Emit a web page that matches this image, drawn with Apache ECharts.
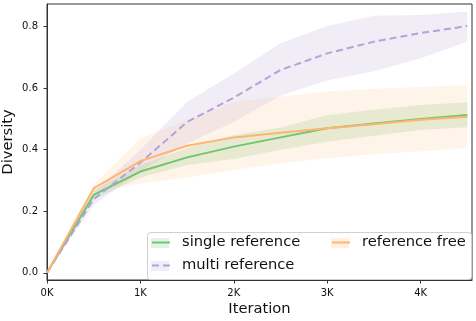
<!DOCTYPE html>
<html>
<head>
<meta charset="utf-8">
<script src="https://cdn.jsdelivr.net/npm/echarts@6/dist/echarts.min.js"></script>
<style>
  html, body { margin: 0; padding: 0; background: #fff; }
  #chart { width: 476px; height: 321px; }
</style>
</head>
<body>
<div id="chart"></div>
<script>
var iterations = [0, 500, 1000, 1500, 2000, 2500, 3000, 3500, 4000, 4500];

var single   = [0, 0.253, 0.329, 0.375, 0.410, 0.440, 0.470, 0.485, 0.500, 0.513];
var singleLo = [0, 0.238, 0.310, 0.350, 0.370, 0.400, 0.426, 0.445, 0.464, 0.473];
var singleHi = [0, 0.268, 0.350, 0.405, 0.448, 0.472, 0.513, 0.530, 0.545, 0.554];

var multi    = [0, 0.239, 0.358, 0.490, 0.569, 0.659, 0.713, 0.751, 0.779, 0.802];
var multiLo  = [0, 0.220, 0.330, 0.420, 0.490, 0.575, 0.625, 0.655, 0.697, 0.751];
var multiHi  = [0, 0.260, 0.400, 0.556, 0.648, 0.746, 0.802, 0.835, 0.838, 0.849];

var free     = [0, 0.274, 0.363, 0.413, 0.440, 0.455, 0.470, 0.483, 0.497, 0.507];
var freeLo   = [0, 0.262, 0.290, 0.310, 0.334, 0.356, 0.372, 0.385, 0.395, 0.405];
var freeHi   = [0, 0.286, 0.437, 0.495, 0.556, 0.572, 0.589, 0.598, 0.604, 0.610];

var yTicks = [0, 0.2, 0.4, 0.6, 0.8];
var xTicks = [0, 1000, 2000, 3000, 4000];

var GREEN = '#72c46e', PURPLE = '#b3a3d7', ORANGE = '#ffb470';
var FONT = 'DejaVu Sans';

function pairs(ys) {
    return iterations.map(function (x, i) { return [x, ys[i]]; });
}

// shaded band between lo and hi, one polygon through the axes
function band(name, lo, hi, color, opacity) {
    return {
        type: 'custom',
        name: name + ' band',
        silent: true,
        data: iterations.map(function (x, i) { return [x, lo[i], hi[i]]; }),
        encode: { x: 0, y: [1, 2] },
        renderItem: function (params, api) {
            if (params.dataIndex !== 0) return null;
            var pts = [];
            for (var i = 0; i < iterations.length; i++) pts.push(api.coord([iterations[i], hi[i]]));
            for (var j = iterations.length - 1; j >= 0; j--) pts.push(api.coord([iterations[j], lo[j]]));
            return {
                type: 'polygon',
                shape: { points: pts },
                style: { fill: color, opacity: opacity }
            };
        }
    };
}

function line(name, ys, color, dashed) {
    return {
        type: 'line',
        name: name,
        data: pairs(ys),
        symbol: 'none',
        lineStyle: { color: color, width: 2, type: dashed ? [7, 4] : 'solid' },
        itemStyle: { color: color }
    };
}

var legendText = { fontFamily: FONT, fontSize: 14.7, color: '#111', padding: [0, 0, 0, 7] };

var myChart = echarts.init(document.getElementById('chart'));
var option = {
    animation: false,
    grid: {
        left: 47, right: 4, top: 4, bottom: 41,
        outerBoundsMode: 'none',
        containLabel: false,
        show: true, borderColor: '#333', borderWidth: 1
    },
    xAxis: {
        type: 'value',
        min: 0, max: 4550,
        name: 'Iteration',
        nameLocation: 'middle',
        nameGap: 22,
        nameMoveOverlap: false,
        nameTextStyle: { fontFamily: FONT, fontSize: 14.7, color: '#111' },
        axisLine: { show: true, onZero: false, lineStyle: { color: '#333', width: 1 } },
        axisTick: { show: true, length: 3.5, customValues: xTicks, lineStyle: { color: '#333' } },
        axisLabel: {
            customValues: xTicks,
            margin: 8,
            fontFamily: FONT, fontSize: 10, color: '#111',
            formatter: function (v) { return (v / 1000) + 'K'; }
        },
        splitLine: { show: false }
    },
    yAxis: {
        type: 'value',
        min: -0.0235, max: 0.8735,
        name: 'Diversity',
        nameLocation: 'middle',
        nameGap: 31,
        nameMoveOverlap: false,
        nameTextStyle: { fontFamily: FONT, fontSize: 14.7, color: '#111' },
        axisLine: { show: true, onZero: false, lineStyle: { color: '#333', width: 1 } },
        axisTick: { show: true, length: 3.5, customValues: yTicks, lineStyle: { color: '#333' } },
        axisLabel: {
            customValues: yTicks,
            margin: 9,
            fontFamily: FONT, fontSize: 10, color: '#111',
            formatter: function (v) { return v.toFixed(1); }
        },
        splitLine: { show: false }
    },
    legend: [{
        data: ['single reference', 'multi reference'],
        orient: 'vertical',
        left: 151, top: 235,
        padding: 0,
        itemGap: 8,
        itemWidth: 18, itemHeight: 10,
        itemStyle: { opacity: 0 },
        z: 10,
        textStyle: legendText,
        selectedMode: false
    }, {
        data: ['reference free'],
        orient: 'vertical',
        left: 331, top: 235,
        padding: 0,
        itemWidth: 18, itemHeight: 10,
        itemStyle: { opacity: 0 },
        z: 10,
        textStyle: legendText,
        selectedMode: false
    }],
    graphic: [
        { type: 'rect', z: 5, shape: { x: 147.5, y: 232.5, width: 324, height: 47, r: 3 },
          style: { fill: 'rgba(255,255,255,0.8)', stroke: '#d0d0d0', lineWidth: 1 } },
        { type: 'rect', z: 6, shape: { x: 151, y: 238, width: 18, height: 10 }, style: { fill: GREEN, opacity: 0.2 } },
        { type: 'rect', z: 6, shape: { x: 151, y: 261, width: 18, height: 10 }, style: { fill: PURPLE, opacity: 0.2 } },
        { type: 'rect', z: 6, shape: { x: 331, y: 238, width: 18, height: 10 }, style: { fill: ORANGE, opacity: 0.2 } }
    ],
    series: [
        band('single reference', singleLo, singleHi, GREEN, 0.2),
        line('single reference', single, GREEN, false),
        band('multi reference', multiLo, multiHi, PURPLE, 0.2),
        line('multi reference', multi, PURPLE, true),
        band('reference free', freeLo, freeHi, ORANGE, 0.15),
        line('reference free', free, ORANGE, false)
    ]
};
myChart.setOption(option);
</script>
</body>
</html>
